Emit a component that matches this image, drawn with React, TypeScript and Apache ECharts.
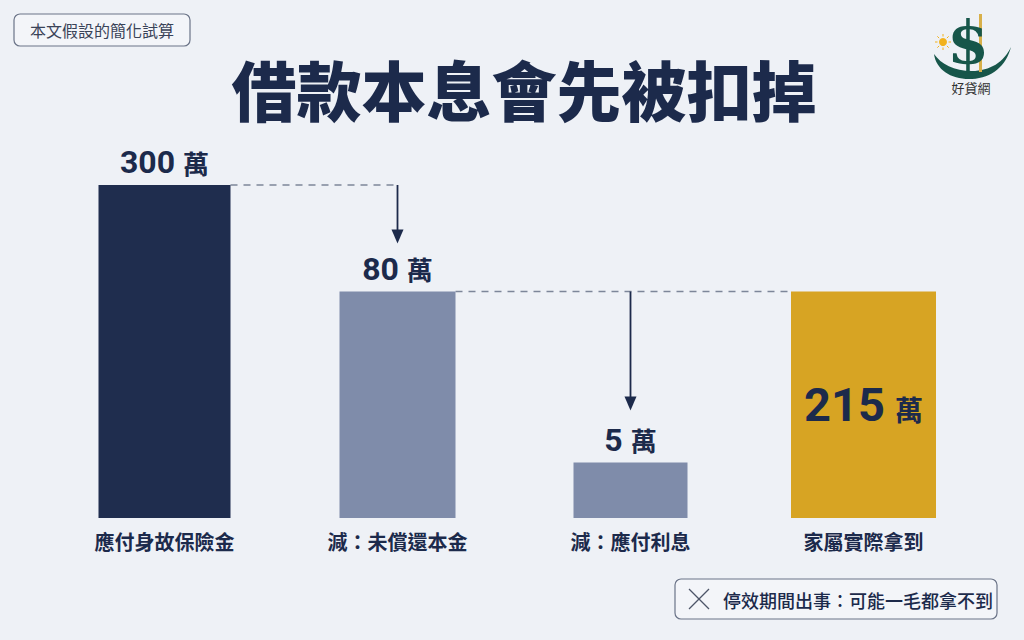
import React, { useEffect, useRef } from "react";
import * as echarts from "echarts";

// Categories (x axis labels)
const categories = ["應付身故保險金", "減：未償還本金", "減：應付利息", "家屬實際拿到"];
// Amounts shown on the labels (萬)
const amounts = [300, 80, 5, 215];
// Bar heights as drawn in the illustration (not to scale with amounts)
const drawnHeights = [300, 204, 50, 204];
const barColors = ["#1f2d4e", "#7f8caa", "#7f8caa", "#d7a423"];
const barWidths = [132, 116, 114, 145];
const unit = "萬";

const NAVY = "#1c2a4b";
const CJK = '"Noto Sans CJK TC", "Noto Sans CJK SC", sans-serif';
const NUM = 'Roboto, "Noto Sans CJK TC", sans-serif';

echarts.graphic.registerShape(
  "swoosh",
  echarts.graphic.extendPath(
    "M934,54 C936,70 952,80 972,79 C992,78 1006,66 1011,47 C1004,62 990,71 972,71 C954,71 941,64 934,54 Z",
    {}
  )
);

export default function App() {
  const ref = useRef<HTMLDivElement>(null);

  useEffect(() => {
    if (!ref.current) return;
    const chart = echarts.init(ref.current, null, { renderer: "svg" });

    const smallRich = {
      n: { fontSize: 32, fontWeight: "bold", fontFamily: NUM, fill: NAVY, lineHeight: 34 },
      u: { fontSize: 26, fontWeight: "bold", fontFamily: CJK, fill: NAVY, lineHeight: 34, padding: [0, 0, 0, 8] },
    };
    const bigRich = {
      n: { fontSize: 47, fontWeight: "bold", fontFamily: NUM, fill: NAVY, lineHeight: 50 },
      u: { fontSize: 28, fontWeight: "bold", fontFamily: CJK, fill: NAVY, lineHeight: 50, padding: [8, 0, 0, 10] },
    };

    chart.setOption({
      animation: false,
      backgroundColor: "#eef1f6",
      grid: { top: 185, bottom: 122, left: 48, right: 44 },
      xAxis: {
        type: "category",
        data: categories,
        axisLine: { show: false },
        axisTick: { show: false },
        axisLabel: {
          margin: 13,
          fontSize: 20,
          fontWeight: "bold",
          fontFamily: CJK,
          color: NAVY,
        },
      },
      yAxis: { type: "value", min: 0, max: 300, show: false, splitLine: { show: false } },
      series: [
        {
          type: "custom",
          data: drawnHeights.map((v, i) => [i, v]),
          encode: { x: 0, y: 1 },
          renderItem: (params: any, api: any) => {
            const i = params.dataIndex;
            const top = api.coord([api.value(0), api.value(1)]);
            const base = api.coord([api.value(0), 0]);
            const w = barWidths[i];
            const big = i === 3;
            return {
              type: "rect",
              shape: { x: top[0] - w / 2, y: top[1], width: w, height: base[1] - top[1] },
              style: { fill: barColors[i] },
              textContent: {
                style: {
                  text: `{n|${amounts[i]}}{u|${unit}}`,
                  fill: NAVY,
                  rich: big ? bigRich : smallRich,
                },
              },
              textConfig: { position: big ? "inside" : "top", distance: 6, insideFill: NAVY, outsideFill: NAVY },
            };
          },
        },
      ],
    });

    const px = (i: number) => chart.convertToPixel({ gridIndex: 0 }, [i, drawnHeights[i]]) as number[];
    const p = categories.map((_, i) => px(i));
    const right = (i: number) => p[i][0] + barWidths[i] / 2;
    const left = (i: number) => p[i][0] - barWidths[i] / 2;

    const dash = { stroke: "#7d8699", lineWidth: 1.5, lineDash: [7, 6] };
    const arrow = (x: number, y0: number, y1: number, id: string) => [
      { type: "line", id: id + "l", shape: { x1: x, y1: y0, x2: x, y2: y1 - 12 }, style: { stroke: NAVY, lineWidth: 1.8 } },
      {
        type: "polygon",
        id: id + "h",
        shape: { points: [[x - 6, y1 - 14], [x + 6, y1 - 14], [x, y1]] },
        style: { fill: NAVY },
      },
    ];

    chart.setOption({
      graphic: [
        // connectors
        { type: "line", id: "d1", shape: { x1: right(0), y1: p[0][1], x2: p[1][0], y2: p[0][1] }, style: dash },
        ...arrow(p[1][0], p[0][1], p[1][1] - 48, "a1"),
        { type: "line", id: "d2", shape: { x1: right(1), y1: p[1][1], x2: left(3), y2: p[1][1] }, style: dash },
        ...arrow(p[2][0], p[1][1], p[2][1] - 52, "a2"),
        // title
        {
          type: "text",
          id: "title",
          x: 524,
          y: 88,
          style: {
            text: "借款本息會先被扣掉",
            fontSize: 65,
            fontWeight: 900,
            fontFamily: CJK,
            fill: NAVY,
            textAlign: "center",
            textVerticalAlign: "middle",
          },
        },
        // top-left tag
        {
          type: "rect",
          id: "tag",
          shape: { x: 14, y: 14, width: 176, height: 32, r: 6 },
          style: { fill: "#f3f5f9", stroke: "#6b7488", lineWidth: 1.2 },
        },
        {
          type: "text",
          id: "tagt",
          x: 102,
          y: 30,
          style: {
            text: "本文假設的簡化試算",
            fontSize: 16,
            fontFamily: CJK,
            fill: "#3a4358",
            textAlign: "center",
            textVerticalAlign: "middle",
          },
        },
        // bottom-right note
        {
          type: "rect",
          id: "note",
          shape: { x: 675, y: 579, width: 322, height: 40, r: 6 },
          style: { fill: "#f3f5f9", stroke: "#6b7488", lineWidth: 1.2 },
        },
        { type: "line", id: "x1", shape: { x1: 689, y1: 589, x2: 709, y2: 609 }, style: { stroke: "#4d5568", lineWidth: 1.3 } },
        { type: "line", id: "x2", shape: { x1: 709, y1: 589, x2: 689, y2: 609 }, style: { stroke: "#4d5568", lineWidth: 1.3 } },
        {
          type: "text",
          id: "notet",
          x: 723,
          y: 600,
          style: {
            text: "停效期間出事：可能一毛都拿不到",
            fontSize: 18,
            fontWeight: 500,
            fontFamily: CJK,
            fill: NAVY,
            textAlign: "left",
            textVerticalAlign: "middle",
          },
        },
        // logo
        { type: "swoosh", id: "sw", x: 0, y: 0, style: { fill: "#17564a" } },
        { type: "rect", id: "lbar", shape: { x: 979, y: 14, width: 3, height: 58 }, style: { fill: "#d8b04a" } },
        {
          type: "text",
          id: "dollar",
          x: 968,
          y: 43,
          style: {
            text: "$",
            fontSize: 60,
            fontWeight: "bold",
            fontFamily: '"DejaVu Serif", serif',
            fill: "#17564a",
            textAlign: "center",
            textVerticalAlign: "middle",
          },
        },
        { type: "circle", id: "sun", shape: { cx: 943, cy: 42, r: 4 }, style: { fill: "#f2b21c" } },
        ...[0, 45, 90, 135, 180, 225, 270, 315].map((a, k) => {
          const r = (a * Math.PI) / 180;
          return {
            type: "line",
            id: "ray" + k,
            shape: {
              x1: 943 + Math.cos(r) * 5.5,
              y1: 42 + Math.sin(r) * 5.5,
              x2: 943 + Math.cos(r) * 8,
              y2: 42 + Math.sin(r) * 8,
            },
            style: { stroke: "#f2b21c", lineWidth: 1 },
          };
        }),
        {
          type: "text",
          id: "logot",
          x: 971,
          y: 87,
          style: {
            text: "好貸網",
            fontSize: 13,
            fontFamily: CJK,
            fill: "#333",
            textAlign: "center",
            textVerticalAlign: "middle",
          },
        },
      ],
    });

    return () => chart.dispose();
  }, []);

  return (
    <div
      ref={ref}
      style={{ position: "fixed", left: 0, top: 0, width: 1024, height: 640 }}
    />
  );
}
